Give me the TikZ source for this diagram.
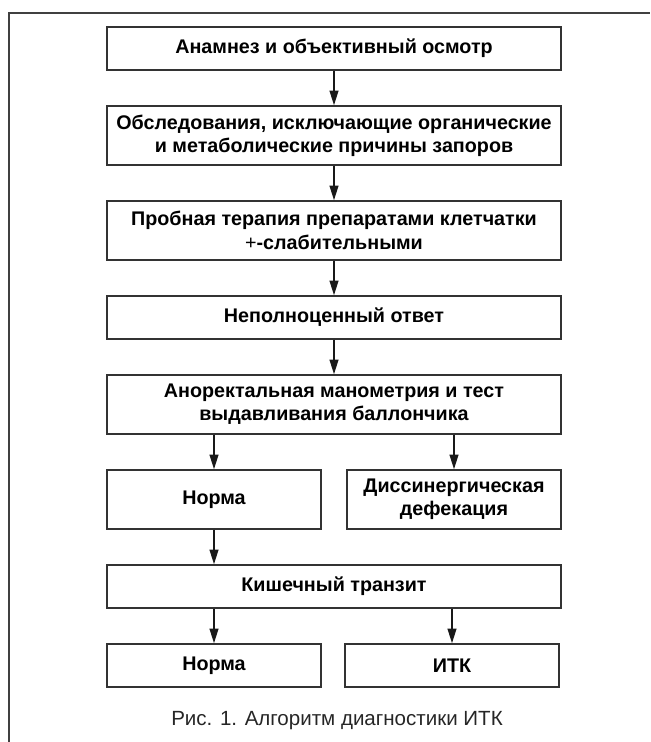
\documentclass[tikz,border=0pt]{standalone}
\usepackage{fontspec}
\setmainfont{Liberation Sans}
\usetikzlibrary{positioning,arrows.meta}

\tikzset{
  box/.style={rectangle, draw=black!80, line width=1pt, minimum width=340.5pt,
    minimum height=32.25pt, inner sep=0pt, align=center,
    font=\bfseries\fontsize{14.8}{17.5}\selectfont},
  tallbox/.style={box, minimum height=44.25pt},
  halfbox/.style={minimum width=160.5pt},
  arr/.style={-{Triangle[length=11pt,width=6.5pt]}, line width=1.5pt, black!90}
}

\begin{document}
\begin{tikzpicture}[node distance=26pt]
      \useasboundingbox (0,0) rectangle (487.5pt,-556.5pt);
      % Frame
      \draw [black!75, line width=1pt] (6.75pt,-556.5pt) -- (6.75pt,-9.75pt) -- (487.5pt,-9.75pt);

      % Nodes
      \node (anamnez) [box] at (250.5pt,-36.375pt) {Анамнез и объективный осмотр};
      \node (obsled) [tallbox, below=of anamnez] {Обследования, исключающие органические\\и метаболические причины запоров};
      \node (proba) [tallbox, below=of obsled] {Пробная терапия препаратами клетчатки\\{\mdseries+}-слабительными};
      \node (otvet) [box, below=of proba] {Неполноценный ответ};
      \node (mano) [tallbox, below=of otvet] {Аноректальная манометрия и тест\\выдавливания баллончика};
      \node (norma) [tallbox, halfbox, below right=26pt and 0pt of mano.south west] {Норма};
      \node (dissin) [tallbox, halfbox, below left=26pt and 0pt of mano.south east] {Диссинергическая\\дефекация};
      \node (transit) [box, below=of mano.south |- norma.south] {Кишечный транзит};
      \node (normb) [box, halfbox, below right=26pt and 0pt of transit.south west] {Норма};
      \node (itk) [box, halfbox, below left=26pt and 1.5pt of transit.south east] {ИТК};
      \node (caption) [black!85, font=\fontsize{15.4}{18}\selectfont] at (252.75pt,-540.75pt) {Рис. 1. Алгоритм диагностики ИТК};

      % Arrows
      \draw [arr] (anamnez) -- (obsled);
      \draw [arr] (obsled) -- (proba);
      \draw [arr] (proba) -- (otvet);
      \draw [arr] (otvet) -- (mano);
      \draw [arr] (mano.south -| norma) -- (norma);
      \draw [arr] (mano.south -| dissin) -- (dissin);
      \draw [arr] (norma) -- (norma |- transit.north);
      \draw [arr] (transit.south -| normb) -- (normb);
      \draw [arr] (transit.south -| itk) -- (itk);
  \end{tikzpicture}
\end{document}
